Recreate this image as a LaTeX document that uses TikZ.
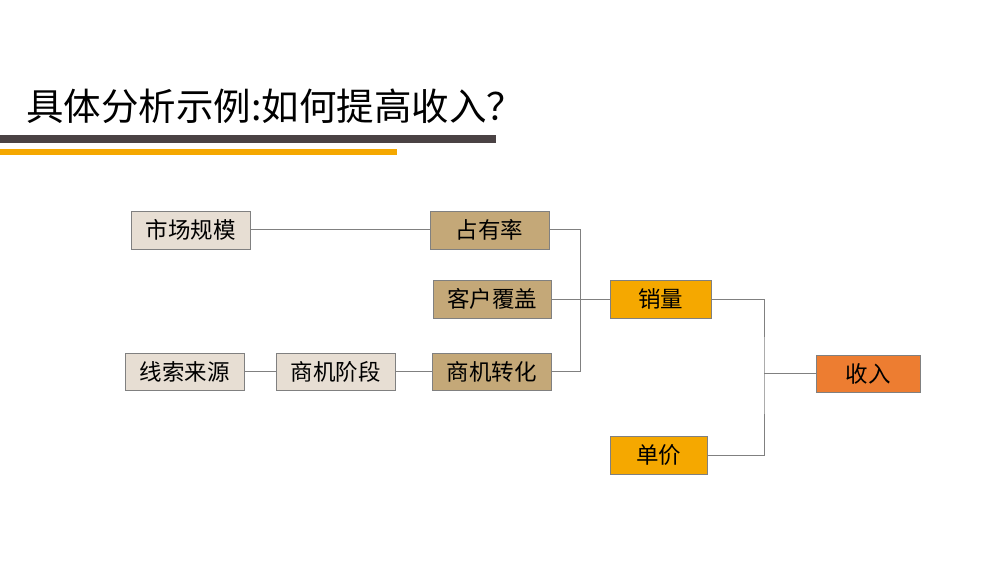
\documentclass[tikz,border=0pt]{standalone}
\usepackage{fontspec}
\setmainfont{Noto Sans CJK SC}
\newfontfamily\cjk{Noto Sans CJK SC}
\definecolor{beige}{HTML}{E7DED3}
\definecolor{tan}{HTML}{C4A878}
\definecolor{gold}{HTML}{F5A800}
\definecolor{orng}{HTML}{ED7D31}
\definecolor{darkbar}{HTML}{4A4244}
\definecolor{edge}{HTML}{808080}
\tikzset{
  box/.style={draw=edge, line width=0.9pt, minimum height=38pt, inner sep=0pt, font=\cjk\fontsize{22.5}{22.5}\selectfont, text=black},
  link/.style={draw=edge, line width=1pt}
}
\begin{document}
\begin{tikzpicture}[x=1pt,y=-1pt]
\useasboundingbox (0,0) rectangle (1007,564);
\fill[white] (0,0) rectangle (1007,564);
\node[anchor=base west, inner sep=0pt, font=\cjk\fontsize{37.5}{37.5}\selectfont] (title) at (26,121) {具体分析示例:如何提高收入？};
\fill[darkbar] (0,135) rectangle (496,143);
\fill[gold] (0,149) rectangle (397,155);

\node[box, fill=beige, minimum width=119pt] (scgm) at (190.5,230) {市场规模};
\node[box, fill=tan, minimum width=119pt] (zyl) at (489.5,230) {占有率};
\node[box, fill=tan, minimum width=118pt] (khfg) at (492,299) {客户覆盖};
\node[box, fill=beige, minimum width=119pt, minimum height=37pt] (xsly) at (184.5,371.5) {线索来源};
\node[box, fill=beige, minimum width=119pt, minimum height=37pt] (sjjd) at (335.5,371.5) {商机阶段};
\node[box, fill=tan, minimum width=119pt, minimum height=37pt] (sjzh) at (491.5,371.5) {商机转化};
\node[box, fill=gold, minimum width=101pt] (xl) at (660.5,299) {销量};
\node[box, fill=gold, minimum width=97pt] (dj) at (658.5,455) {单价};
\node[box, fill=orng, minimum width=104pt, minimum height=37pt] (sr) at (868,373.5) {收入};

\coordinate (b1) at (580,230);
\coordinate (b2) at (764,373.5);

\draw[link] (scgm.east) -- (zyl.west);
\draw[link] (xsly.east) -- (sjjd.west);
\draw[link] (sjjd.east) -- (sjzh.west);
\draw[link] (zyl.east) -| (b1) |- (sjzh.east);
\draw[link] (khfg.east) -- (xl.west);
\draw[link] (xl.east) -| (b2) |- (dj.east);
\draw[link] (b2) -- (sr.west);
\end{tikzpicture}
\end{document}
